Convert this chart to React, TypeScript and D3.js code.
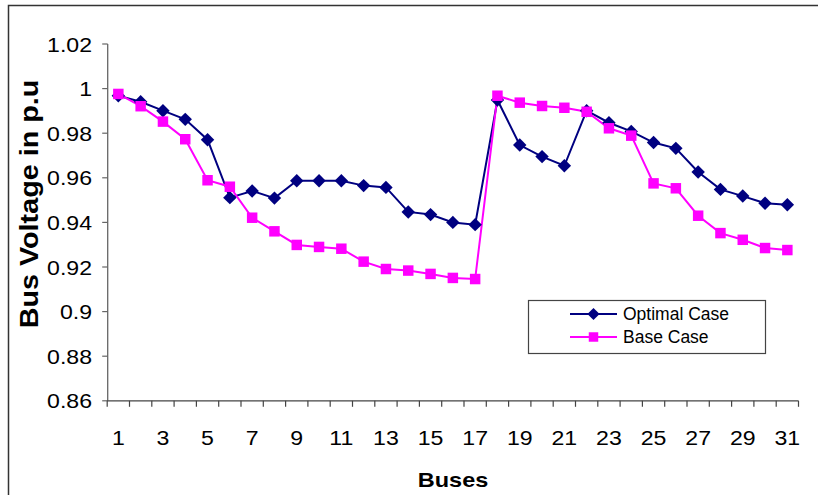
import React, { useEffect, useRef } from "react";
import * as d3 from "d3";

const buses: number[] = d3.range(1, 32);
const optimalCase: number[] = [
  0.9968, 0.9941, 0.9901, 0.9862, 0.9771, 0.9511, 0.9541, 0.9509, 0.9587, 0.9587,
  0.9587, 0.9565, 0.9557, 0.9447, 0.9435, 0.94, 0.939, 0.9949, 0.9747, 0.9695,
  0.9654, 0.9901, 0.9847, 0.9808, 0.9758, 0.9732, 0.9626, 0.9548, 0.9518, 0.9486,
  0.9479,
];
const baseCase: number[] = [
  0.9976, 0.9921, 0.9852, 0.9773, 0.9589, 0.956, 0.9421, 0.936, 0.9299, 0.929,
  0.9282, 0.9224, 0.9191, 0.9184, 0.9169, 0.9151, 0.9146, 0.9968, 0.9937, 0.9922,
  0.9914, 0.9896, 0.9822, 0.9789, 0.9575, 0.9553, 0.943, 0.9352, 0.9322, 0.9285,
  0.9276,
];
const yTicks: number[] = [0.86, 0.88, 0.9, 0.92, 0.94, 0.96, 0.98, 1, 1.02];
const xTickLabels: number[] = buses.filter((b) => b % 2 === 1);

const W = 818;
const H = 495;
const FONT = "'Liberation Sans', Arial, sans-serif";
const NAVY = "#000080";
const MAGENTA = "#FF00FF";

type Sel = d3.Selection<any, unknown, null, undefined>;

// text placed at (x, y), optionally rotated, with a slight stretch along the baseline
function label(
  g: Sel,
  x: number,
  y: number,
  txt: string,
  opts: { size: number; anchor?: string; bold?: boolean; rotate?: number; sx?: number; dy?: string }
) {
  const t = g
    .append("g")
    .attr("transform", `translate(${x},${y}) rotate(${opts.rotate ?? 0}) scale(${opts.sx ?? 1},1)`)
    .append("text")
    .attr("text-anchor", opts.anchor ?? "start")
    .attr("font-family", FONT)
    .attr("font-size", opts.size)
    .attr("font-weight", opts.bold ? "bold" : "normal")
    .attr("fill", "#000")
    .text(txt);
  if (opts.dy) t.attr("dy", opts.dy);
  return t;
}

export default function App() {
  const ref = useRef<SVGSVGElement | null>(null);

  useEffect(() => {
    const svg = d3.select(ref.current) as unknown as Sel;
    svg.selectAll("*").remove();

    const left = 107.2;
    const right = 798.5;
    const top = 44;
    const bottom = 400.8;

    const x = d3.scaleBand<number>().domain(buses).range([left, right]).padding(0);
    const cx = (b: number) => (x(b) as number) + x.bandwidth() / 2;
    const y = d3.scaleLinear().domain([0.86, 1.02]).range([bottom, top]);

    // outer frame
    svg
      .append("rect")
      .attr("x", 8.5)
      .attr("y", 5.5)
      .attr("width", 830)
      .attr("height", 520)
      .attr("fill", "none")
      .attr("stroke", "#333")
      .attr("stroke-width", 1.5);

    // y axis
    const ya = svg.append("g");
    ya.append("line")
      .attr("x1", left + 0.5).attr("x2", left + 0.5)
      .attr("y1", top).attr("y2", bottom)
      .attr("stroke", "#666").attr("stroke-width", 1.3);
    yTicks.forEach((t) => {
      ya.append("line")
        .attr("x1", left - 5).attr("x2", left + 0.5)
        .attr("y1", y(t)).attr("y2", y(t))
        .attr("stroke", "#666").attr("stroke-width", 1.2);
      label(ya, 92, y(t), String(t), { size: 21, anchor: "end", sx: 1.1, dy: "0.36em" });
    });

    // x axis
    const xa = svg.append("g");
    xa.append("line")
      .attr("x1", left).attr("x2", right)
      .attr("y1", bottom).attr("y2", bottom)
      .attr("stroke", "#444").attr("stroke-width", 1.2);
    buses.concat([buses.length + 1]).forEach((b, i) => {
      const px = i < buses.length ? (x(b) as number) : right;
      xa.append("line")
        .attr("x1", px).attr("x2", px)
        .attr("y1", bottom).attr("y2", bottom + 6)
        .attr("stroke", "#444").attr("stroke-width", 1.2);
    });
    xTickLabels.forEach((b) => {
      label(xa, cx(b), 445, String(b), { size: 21, anchor: "middle", sx: 1.1 });
    });

    // axis titles
    label(svg, 453, 487, "Buses", { size: 21, anchor: "middle", bold: true, sx: 1.12 });
    label(svg, 38, 204, "Bus Voltage in p.u", {
      size: 25,
      anchor: "middle",
      bold: true,
      rotate: -90,
      sx: 1.15,
    });

    const line = d3
      .line<number>()
      .x((_, i) => cx(buses[i]))
      .y((d) => y(d));

    const diamond = d3.symbol().type(d3.symbolDiamond2).size(115);
    const square = d3.symbol().type(d3.symbolSquare).size(110);

    // series lines
    svg.append("path")
      .attr("d", line(optimalCase) as string)
      .attr("fill", "none")
      .attr("stroke", NAVY)
      .attr("stroke-width", 2);
    svg.append("path")
      .attr("d", line(baseCase) as string)
      .attr("fill", "none")
      .attr("stroke", MAGENTA)
      .attr("stroke-width", 2);

    // series markers
    svg.append("g")
      .selectAll("path")
      .data(optimalCase)
      .join("path")
      .attr("d", diamond() as string)
      .attr("transform", (d, i) => `translate(${cx(buses[i])},${y(d)})`)
      .attr("fill", NAVY);

    svg.append("g")
      .selectAll("path")
      .data(baseCase)
      .join("path")
      .attr("d", square() as string)
      .attr("transform", (d, i) => `translate(${cx(buses[i])},${y(d)})`)
      .attr("fill", MAGENTA);

    // legend
    const lg = svg.append("g");
    lg.append("rect")
      .attr("x", 528.5).attr("y", 300.5)
      .attr("width", 237).attr("height", 53)
      .attr("fill", "#fff")
      .attr("stroke", "#444").attr("stroke-width", 1.2);
    const items: [string, string, "d" | "s", number][] = [
      ["Optimal Case", NAVY, "d", 314],
      ["Base Case", MAGENTA, "s", 337],
    ];
    items.forEach(([name, color, kind, ly]) => {
      lg.append("line")
        .attr("x1", 570).attr("x2", 617)
        .attr("y1", ly).attr("y2", ly)
        .attr("stroke", color).attr("stroke-width", 2);
      lg.append("path")
        .attr("d", (kind === "d"
          ? d3.symbol().type(d3.symbolDiamond2).size(95)
          : d3.symbol().type(d3.symbolSquare).size(90))() as string)
        .attr("transform", `translate(593.5,${ly})`)
        .attr("fill", color);
      label(lg, 623, ly, name, { size: 17.5, sx: 1.0, dy: "0.36em" });
    });
  }, []);

  return (
    <svg
      ref={ref}
      width={W}
      height={H}
      style={{ position: "absolute", left: 0, top: 0, background: "#fff" }}
    />
  );
}
